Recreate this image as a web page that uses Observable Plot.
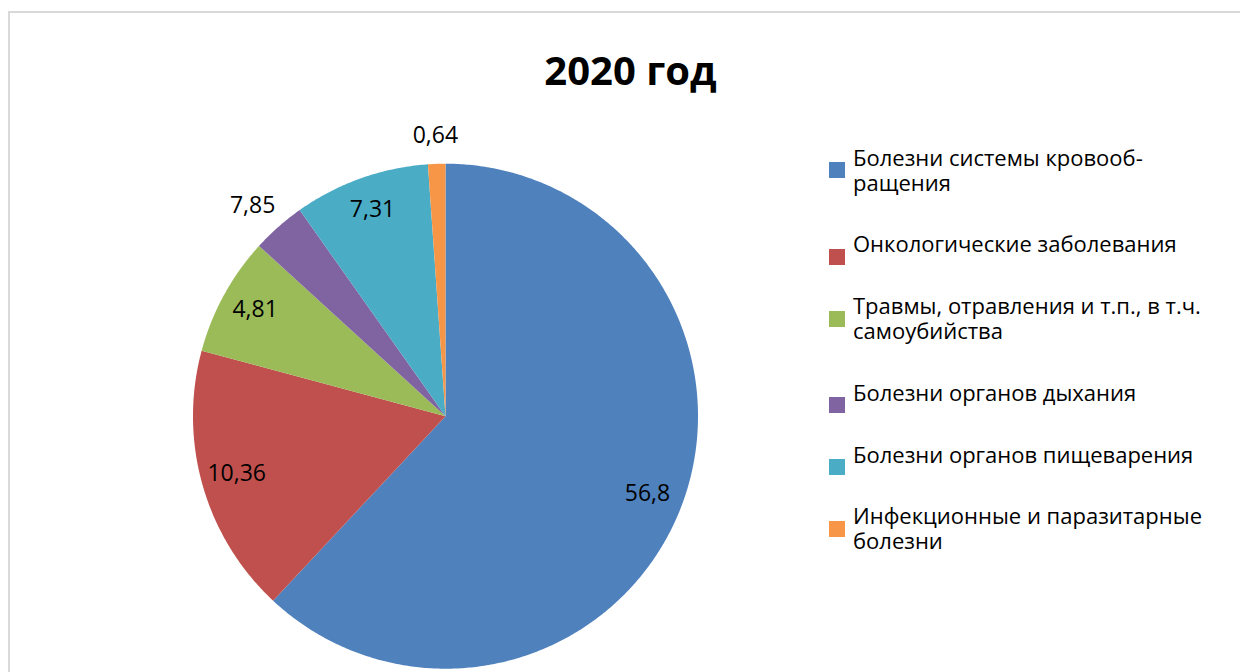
<!DOCTYPE html>
<html><head><meta charset="utf-8">
<script src="https://cdn.jsdelivr.net/npm/d3@7"></script>
<script src="https://cdn.jsdelivr.net/npm/@observablehq/plot@0.6"></script>
<style>
html,body{margin:0;padding:0;background:#fff;}
#wrap{position:relative;width:1240px;height:672px;overflow:hidden;font-family:"Open Sans",sans-serif;}
#frame{position:absolute;left:8px;top:11px;width:1300px;height:800px;border:2px solid #d9d9d9;box-sizing:border-box;}
#chart{position:absolute;left:0;top:0;}
#title{position:absolute;left:630.5px;top:50px;transform:translateX(-50%);font-size:40px;font-weight:700;line-height:40px;white-space:nowrap;color:#000;}
#legend{position:absolute;left:829px;top:144.8px;display:flex;flex-direction:column;gap:36.7px;}
.item{position:relative;padding-left:24px;}
.sw{position:absolute;left:0;top:17.5px;width:16px;height:16px;}
.lbl{font-size:22px;line-height:25px;white-space:pre;color:#000;}
</style></head><body>
<div id="wrap">
  <div id="frame"></div>
  <div id="chart"></div>
  <div id="title"></div>
  <div id="legend"></div>
</div>
<script>
const titleText = "2020 год";
const categories = [
  "Болезни системы кровообращения",
  "Онкологические заболевания",
  "Травмы, отравления и т.п., в т.ч. самоубийства",
  "Болезни органов дыхания",
  "Болезни органов пищеварения",
  "Инфекционные и паразитарные болезни"
];
const legendLabels = [
  "Болезни системы кровооб-\nращения",
  "Онкологические заболевания",
  "Травмы, отравления и т.п., в т.ч.\nсамоубийства",
  "Болезни органов дыхания",
  "Болезни органов пищеварения",
  "Инфекционные и паразитарные\nболезни"
];
// slice sizes as drawn in the picture (share of the circle, %)
const sliceShares = [61.96, 17.22, 7.60, 3.42, 8.69, 1.11];
// data labels as printed on the chart
const valueLabels = ["56,8", "10,36", "4,81", "7,85", "7,31", "0,64"];
const colors = ["#4f81bd", "#c0504d", "#9bbb59", "#8064a2", "#4bacc6", "#f79646"];

document.getElementById("title").textContent = titleText;

const total = d3.sum(sliceShares);
let acc = 0;
const slices = categories.map((c, i) => {
  const a0 = acc / total * 2 * Math.PI;
  acc += sliceShares[i];
  const a1 = acc / total * 2 * Math.PI;
  return {c, i, a0, a1};
});
const features = slices.map(s => {
  const ring = [[0, 0]];
  const n = Math.max(2, Math.ceil((s.a1 - s.a0) / (Math.PI / 360)));
  for (let k = 0; k <= n; k++) {
    const a = s.a0 + (s.a1 - s.a0) * k / n;
    ring.push([Math.sin(a), -Math.cos(a)]);
  }
  ring.push([0, 0]);
  return {type: "Feature", properties: {category: s.c}, geometry: {type: "Polygon", coordinates: [ring]}};
});
const outline = {type: "Polygon", coordinates: [d3.range(0, 361, 2).map(d => [Math.sin(d * Math.PI / 180), -Math.cos(d * Math.PI / 180)])]};

// label placement: inside for large slices, just outside the rim (box offset) for small ones
const R = 252.5; // pie radius in px, used only to express label offsets in unit space
const labels = slices.map(s => {
  const m = (s.a0 + s.a1) / 2;
  const sx = Math.sin(m), sy = -Math.cos(m);
  const outside = (s.a1 - s.a0) < 20 * Math.PI / 180;
  if (!outside) return {x: 0.86 * sx, y: 0.86 * sy, text: valueLabels[s.i]};
  const rr = 1 + 16 / R;
  return {x: rr * sx + (23 / R) * sx, y: rr * sy + (10 / R) * sy, text: valueLabels[s.i]};
});

const chart = Plot.plot({
  width: 1240, height: 672,
  marginLeft: 192.5, marginRight: 542.5, marginTop: 163.2, marginBottom: 3.8,
  projection: {type: "identity", domain: outline, clip: false},
  color: {domain: categories, range: colors},
  style: {background: "transparent", fontFamily: "Open Sans"},
  marks: [
    Plot.geo(features, {fill: d => d.properties.category}),
    Plot.text(labels, {x: "x", y: "y", text: "text", fontSize: 23, dy: -2, fill: "#000", fontFamily: "Open Sans"})
  ]
});
document.getElementById("chart").appendChild(chart);

const legend = document.getElementById("legend");
legendLabels.forEach((t, i) => {
  const item = document.createElement("div");
  item.className = "item";
  const sw = document.createElement("div");
  sw.className = "sw";
  sw.style.background = colors[i];
  const lb = document.createElement("div");
  lb.className = "lbl";
  lb.textContent = t;
  item.appendChild(sw);
  item.appendChild(lb);
  legend.appendChild(item);
});
</script>
</body></html>
